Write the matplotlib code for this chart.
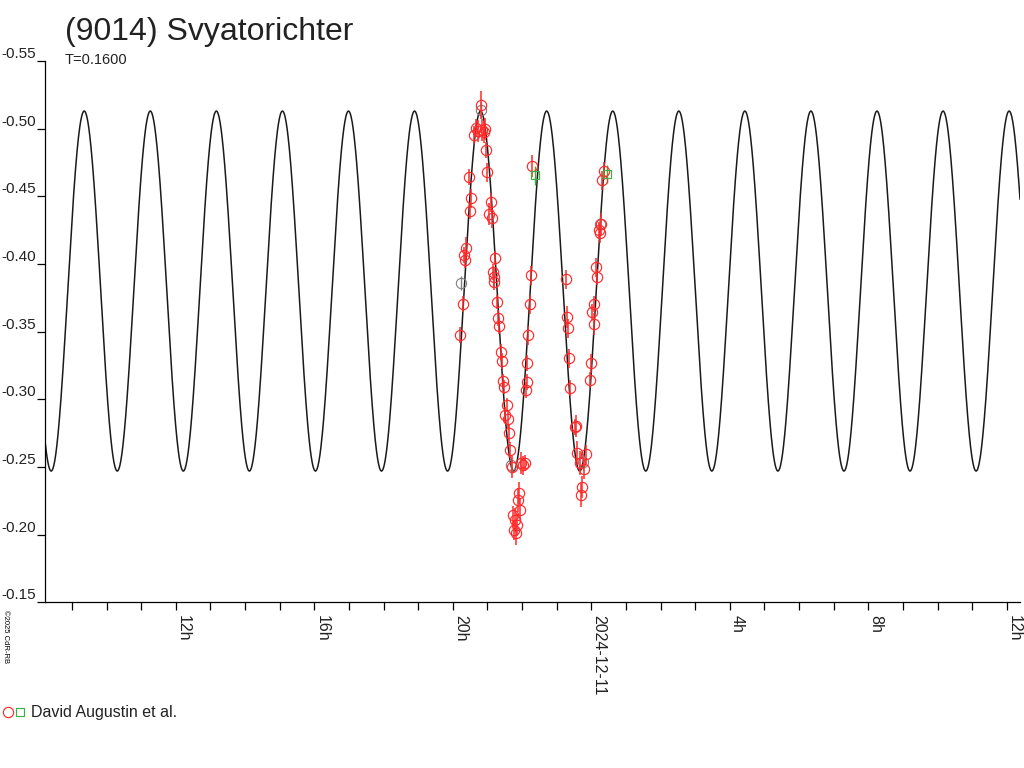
#!/usr/bin/env python
"""Lightcurve of (9014) Svyatorichter, 2024-12-10/11, with the periodic fit."""
from __future__ import annotations

import matplotlib

matplotlib.use("Agg")
import matplotlib.pyplot as plt
import numpy as np
from matplotlib.legend_handler import HandlerTuple
from matplotlib.lines import Line2D

plt.rcParams["font.family"] = ["Liberation Sans", "DejaVu Sans"]

# Time axis: hours relative to 2024-12-11 00:00 UT
# David Augustin et al. -- accepted points (red)
red_t = [-3.792, -3.705, -3.676, -3.618, -3.647, -3.532, -3.474, -3.503, -3.387, -3.329,
         -3.271, -3.185, -3.156, -3.098, -3.069,
         -3.041, -3.012, -2.896, -2.954, -2.867, -2.781, -2.839, -2.810, -2.810, -2.723,
         -2.694, -2.665, -2.607, -2.578, -2.550, -2.521, -2.434, -2.492, -2.405, -2.376,
         -2.347, -2.290, -2.030, -1.972, -1.914,
         -2.088, -2.117, -2.059, -2.261, -2.203, -2.145, -2.232, -2.174,
         -1.886, -1.857, -1.857, -1.828, -1.770, -1.741, -1.712,
         -0.731, -0.702, -0.673, -0.644, -0.615, -0.442, -0.471, -0.413, -0.153, -0.326,
         -0.211, -0.269, -0.297,
         -0.038, -0.009, 0.078, 0.020, 0.078, 0.165, 0.136, 0.251, 0.222, 0.280,
         0.309, 0.367]
red_mag = [-0.3474, -0.3703, -0.4066, -0.4117, -0.4029, -0.4642, -0.4487, -0.4391, -0.4953, -0.5005,
           -0.4983, -0.5175, -0.4990, -0.4975, -0.4997,
           -0.4842, -0.4679, -0.4457, -0.4369, -0.4339, -0.4043, -0.3940, -0.3903, -0.3866, -0.3718,
           -0.3600, -0.3541, -0.3348, -0.3282, -0.3134, -0.3090, -0.2957, -0.2883, -0.2853, -0.2750,
           -0.2624, -0.2498, -0.2528, -0.2513, -0.2528,
           -0.2306, -0.2254, -0.2180, -0.2143, -0.2106, -0.2069, -0.2032, -0.2010,
           -0.3067, -0.3127, -0.3267, -0.3474, -0.3703, -0.3918, -0.4724,
           -0.3888, -0.3607, -0.3526, -0.3304, -0.3082, -0.2801, -0.2794, -0.2602, -0.2594, -0.2528,
           -0.2483, -0.2350, -0.2291,
           -0.3141, -0.3267, -0.3555, -0.3644, -0.3703, -0.3903, -0.3977, -0.4228, -0.4250, -0.4295,
           -0.4620, -0.4687]
red_err = [0.006, 0.006, 0.006, 0.008, 0.006, 0.006, 0.007, 0.006, 0.007, 0.007,
           0.008, 0.010, 0.008, 0.008, 0.008,
           0.006, 0.007, 0.007, 0.008, 0.007, 0.005, 0.006, 0.007, 0.006, 0.005,
           0.006, 0.006, 0.006, 0.006, 0.005, 0.005, 0.005, 0.006, 0.007, 0.007,
           0.006, 0.008, 0.008, 0.007, 0.006,
           0.008, 0.009, 0.008, 0.007, 0.009, 0.008, 0.007, 0.009,
           0.006, 0.006, 0.006, 0.007, 0.007, 0.007, 0.008,
           0.007, 0.008, 0.007, 0.007, 0.006, 0.008, 0.006, 0.009, 0.007, 0.009,
           0.007, 0.008, 0.009,
           0.006, 0.007, 0.008, 0.006, 0.006, 0.006, 0.007, 0.007, 0.006, 0.008,
           0.007, 0.007]

# rejected / low-weight points (grey)
grey_t = [-3.763, -3.185, -2.319, -0.240, 0.251]
grey_mag = [-0.3859, -0.5140, -0.2513, -0.2535, -0.4295]
grey_err = [0.005, 0.006, 0.006, 0.006, 0.006]

# second data set (green squares)
green_t = [-1.626, 0.453]
green_mag = [-0.4657, -0.4665]
green_err = [0.007, 0.007]

# Fitted lightcurve (single harmonic)
fit_period_h = 1.908
fit_epoch_h = -1.290      # time of a brightness maximum
fit_mean = -0.380
fit_amp = 0.133

title = "(9014) Svyatorichter"
subtitle = "T=0.1600"
observer = "David Augustin et al."
credit = "\u00a92025 CdR-RB"

x_min, x_max = -15.77, 12.38
y_ticks = [-0.55, -0.50, -0.45, -0.40, -0.35, -0.30, -0.25, -0.20, -0.15]
label_every_h = 4
date_label = "2024-12-11"


def hour_label(h: int) -> str:
    if h % label_every_h:
        return ""
    if h % 24 == 0:
        return date_label
    return f"{h % 24}h"


def main() -> None:
    fig = plt.figure(figsize=(10.24, 7.68), dpi=100)
    W, H = 1024, 768
    ax = fig.add_axes([45.3 / W, 1 - 602.3 / H, (1020 - 45.3) / W, (602.3 - 61) / H])

    # Fit curve
    tt = np.linspace(x_min, x_max, 3000)
    model = fit_mean - fit_amp * np.cos(2 * np.pi * (tt - fit_epoch_h) / fit_period_h)
    ax.plot(tt, model, color="#1a1a1a", lw=1.1, zorder=2)

    red = "#ff2a2a"
    green = "#3cb043"
    ax.errorbar(grey_t, grey_mag, yerr=grey_err, fmt="o", ms=7.4, mfc="none", mec="#7f7f7f",
                mew=0.8, ecolor="#7f7f7f", elinewidth=1.0, capsize=0, zorder=3)
    ax.errorbar(red_t, red_mag, yerr=red_err, fmt="o", ms=7.4, mfc="none", mec=red,
                mew=0.85, ecolor=red, elinewidth=1.1, capsize=0, zorder=4)
    ax.errorbar(green_t, green_mag, yerr=green_err, fmt="s", ms=6.2, mfc="none", mec=green,
                mew=0.85, ecolor=green, elinewidth=1.0, capsize=0, zorder=4)

    ax.set_xlim(x_min, x_max)
    ax.set_ylim(-0.15, -0.55)

    hours = list(range(int(np.ceil(x_min)), int(np.floor(x_max)) + 1))
    ax.set_xticks(hours)
    ax.set_xticklabels([hour_label(h) for h in hours])
    ax.set_yticks(y_ticks)
    ax.set_yticklabels([f"{v:.2f}" for v in y_ticks])

    for side in ("top", "right"):
        ax.spines[side].set_visible(False)
    for side in ("left", "bottom"):
        ax.spines[side].set_linewidth(0.9)

    ax.tick_params(axis="both", direction="out", length=6, width=0.9, colors="black")
    ax.tick_params(axis="x", labelsize=11.5, pad=3)
    ax.tick_params(axis="y", labelsize=11, pad=0.8)
    for lab in ax.get_xticklabels():
        lab.set_rotation(270)
        lab.set_ha("left")
        lab.set_va("top")
    for lab in ax.get_yticklabels():
        lab.set_va("bottom")
    for lab in ax.get_xticklabels() + ax.get_yticklabels():
        lab.set_color("#222222")

    fig.text(65 / W, 1 - 40 / H, title, fontsize=23, color="#222222", va="baseline")
    fig.text(65 / W, 1 - 64 / H, subtitle, fontsize=10.5, color="#222222", va="baseline")
    fig.text(1.5 / W, 1 - 610 / H, credit, fontsize=5.5, rotation=270, va="top", ha="left")

    h_red = Line2D([], [], ls="none", marker="o", ms=7.4, mfc="none", mec=red, mew=0.85)
    h_green = Line2D([], [], ls="none", marker="s", ms=6.2, mfc="none", mec=green, mew=0.85)
    fig.legend(handles=[(h_red, h_green)], labels=[observer],
               handler_map={tuple: HandlerTuple(ndivide=None, pad=0.0)},
               loc="center left", bbox_to_anchor=(0, 1 - 713 / H), frameon=False,
               borderaxespad=0, borderpad=0.15, handlelength=1.5, handletextpad=0.3,
               prop={"size": 11.5}, labelcolor="#222222")

    fig.savefig("out.png", dpi=100)


if __name__ == "__main__":
    main()
